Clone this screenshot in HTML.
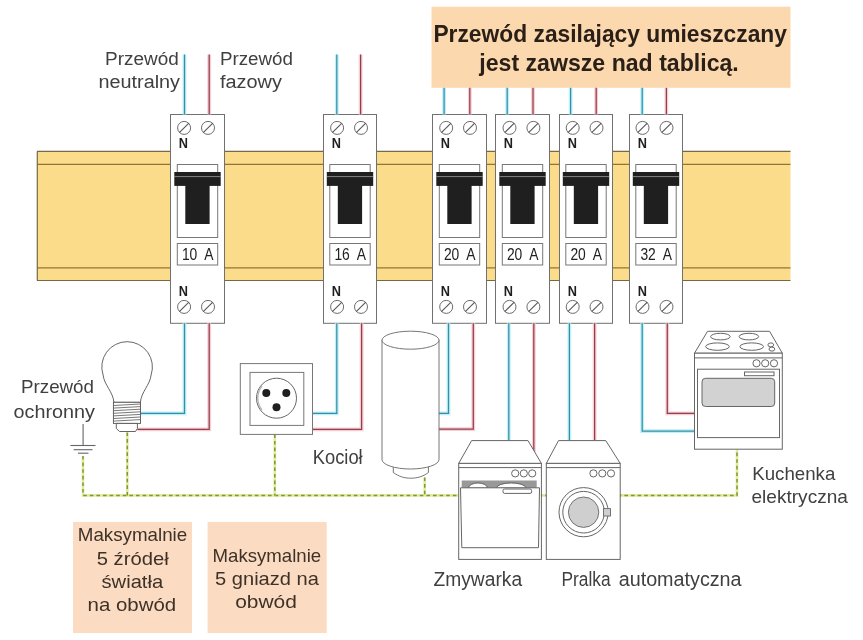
<!DOCTYPE html>
<html><head><meta charset="utf-8"><title>Instalacja</title>
<style>
html,body{margin:0;padding:0;background:#fff;width:863px;height:640px;overflow:hidden}
svg{display:block;font-family:"Liberation Sans", sans-serif;will-change:transform}
</style></head>
<body>
<svg width="863" height="640" viewBox="0 0 863 640">
<rect x="37" y="151.5" width="753.5" height="129" fill="#fbdc8b"/>
<g stroke-width="1.2" fill="none"><line x1="37" y1="151.4" x2="790.5" y2="151.4" stroke="#75694a"/><line x1="37" y1="164.3" x2="790.5" y2="164.3" stroke="#8f7638"/><line x1="37" y1="267.8" x2="790.5" y2="267.8" stroke="#8f7638"/><line x1="37" y1="280.5" x2="790.5" y2="280.5" stroke="#75694a"/><line x1="37.3" y1="151.4" x2="37.3" y2="280.5" stroke="#75694a"/></g>
<rect x="431.5" y="6.7" width="359" height="81.1" fill="#fcd8ae"/>
<rect x="170.5" y="114.5" width="54.0" height="208.8" fill="#fff" stroke="#707070" stroke-width="1"/>
<circle cx="184.1" cy="127.9" r="6.5" fill="#fff" stroke="#5a5a5a" stroke-width="0.9"/><line x1="179.3" y1="132.7" x2="188.9" y2="123.1" stroke="#555" stroke-width="1.1"/>
<circle cx="208.0" cy="127.9" r="6.5" fill="#fff" stroke="#5a5a5a" stroke-width="0.9"/><line x1="203.2" y1="132.7" x2="212.8" y2="123.1" stroke="#555" stroke-width="1.1"/>
<circle cx="184.1" cy="306.9" r="6.5" fill="#fff" stroke="#5a5a5a" stroke-width="0.9"/><line x1="179.3" y1="311.7" x2="188.9" y2="302.1" stroke="#555" stroke-width="1.1"/>
<circle cx="208.0" cy="306.9" r="6.5" fill="#fff" stroke="#5a5a5a" stroke-width="0.9"/><line x1="203.2" y1="311.7" x2="212.8" y2="302.1" stroke="#555" stroke-width="1.1"/>
<text x="178.7" y="148.4" font-size="14.5" font-weight="bold" fill="#1e1e1e" textLength="9.2" lengthAdjust="spacingAndGlyphs">N</text>
<text x="178.7" y="296" font-size="14.5" font-weight="bold" fill="#1e1e1e" textLength="9.2" lengthAdjust="spacingAndGlyphs">N</text>
<rect x="177.3" y="164.5" width="40.4" height="73" fill="#fff" stroke="#777" stroke-width="1"/>
<rect x="174.3" y="172" width="46.4" height="13.9" fill="#1f1f1f"/>
<line x1="174.3" y1="176.6" x2="220.7" y2="176.6" stroke="#a0a0a0" stroke-width="0.8"/>
<rect x="185.3" y="185" width="24.3" height="39" fill="#1f1f1f"/>
<rect x="177.3" y="243.5" width="40.4" height="21.5" fill="#fff" stroke="#777" stroke-width="1"/>
<text x="181.9" y="260.2" font-size="15.8" fill="#222" textLength="31.6" lengthAdjust="spacingAndGlyphs" xml:space="preserve">10  A</text>
<rect x="323.5" y="114.5" width="53.0" height="208.8" fill="#fff" stroke="#707070" stroke-width="1"/>
<circle cx="337.1" cy="127.9" r="6.5" fill="#fff" stroke="#5a5a5a" stroke-width="0.9"/><line x1="332.3" y1="132.7" x2="341.9" y2="123.1" stroke="#555" stroke-width="1.1"/>
<circle cx="361.0" cy="127.9" r="6.5" fill="#fff" stroke="#5a5a5a" stroke-width="0.9"/><line x1="356.2" y1="132.7" x2="365.8" y2="123.1" stroke="#555" stroke-width="1.1"/>
<circle cx="337.1" cy="306.9" r="6.5" fill="#fff" stroke="#5a5a5a" stroke-width="0.9"/><line x1="332.3" y1="311.7" x2="341.9" y2="302.1" stroke="#555" stroke-width="1.1"/>
<circle cx="361.0" cy="306.9" r="6.5" fill="#fff" stroke="#5a5a5a" stroke-width="0.9"/><line x1="356.2" y1="311.7" x2="365.8" y2="302.1" stroke="#555" stroke-width="1.1"/>
<text x="331.7" y="148.4" font-size="14.5" font-weight="bold" fill="#1e1e1e" textLength="9.2" lengthAdjust="spacingAndGlyphs">N</text>
<text x="331.7" y="296" font-size="14.5" font-weight="bold" fill="#1e1e1e" textLength="9.2" lengthAdjust="spacingAndGlyphs">N</text>
<rect x="329.8" y="164.5" width="40.4" height="73" fill="#fff" stroke="#777" stroke-width="1"/>
<rect x="326.8" y="172" width="46.4" height="13.9" fill="#1f1f1f"/>
<line x1="326.8" y1="176.6" x2="373.2" y2="176.6" stroke="#a0a0a0" stroke-width="0.8"/>
<rect x="337.8" y="185" width="24.3" height="39" fill="#1f1f1f"/>
<rect x="329.8" y="243.5" width="40.4" height="21.5" fill="#fff" stroke="#777" stroke-width="1"/>
<text x="334.4" y="260.2" font-size="15.8" fill="#222" textLength="31.6" lengthAdjust="spacingAndGlyphs" xml:space="preserve">16  A</text>
<rect x="432.5" y="114.5" width="54.0" height="208.8" fill="#fff" stroke="#707070" stroke-width="1"/>
<circle cx="446.2" cy="127.9" r="6.5" fill="#fff" stroke="#5a5a5a" stroke-width="0.9"/><line x1="441.4" y1="132.7" x2="451.0" y2="123.1" stroke="#555" stroke-width="1.1"/>
<circle cx="470.0" cy="127.9" r="6.5" fill="#fff" stroke="#5a5a5a" stroke-width="0.9"/><line x1="465.2" y1="132.7" x2="474.8" y2="123.1" stroke="#555" stroke-width="1.1"/>
<circle cx="446.2" cy="306.9" r="6.5" fill="#fff" stroke="#5a5a5a" stroke-width="0.9"/><line x1="441.4" y1="311.7" x2="451.0" y2="302.1" stroke="#555" stroke-width="1.1"/>
<circle cx="470.0" cy="306.9" r="6.5" fill="#fff" stroke="#5a5a5a" stroke-width="0.9"/><line x1="465.2" y1="311.7" x2="474.8" y2="302.1" stroke="#555" stroke-width="1.1"/>
<text x="440.7" y="148.4" font-size="14.5" font-weight="bold" fill="#1e1e1e" textLength="9.2" lengthAdjust="spacingAndGlyphs">N</text>
<text x="440.7" y="296" font-size="14.5" font-weight="bold" fill="#1e1e1e" textLength="9.2" lengthAdjust="spacingAndGlyphs">N</text>
<rect x="439.3" y="164.5" width="40.4" height="73" fill="#fff" stroke="#777" stroke-width="1"/>
<rect x="436.3" y="172" width="46.4" height="13.9" fill="#1f1f1f"/>
<line x1="436.3" y1="176.6" x2="482.7" y2="176.6" stroke="#a0a0a0" stroke-width="0.8"/>
<rect x="447.3" y="185" width="24.3" height="39" fill="#1f1f1f"/>
<rect x="439.3" y="243.5" width="40.4" height="21.5" fill="#fff" stroke="#777" stroke-width="1"/>
<text x="443.9" y="260.2" font-size="15.8" fill="#222" textLength="31.6" lengthAdjust="spacingAndGlyphs" xml:space="preserve">20  A</text>
<rect x="495.5" y="114.5" width="54.0" height="208.8" fill="#fff" stroke="#707070" stroke-width="1"/>
<circle cx="509.5" cy="127.9" r="6.5" fill="#fff" stroke="#5a5a5a" stroke-width="0.9"/><line x1="504.7" y1="132.7" x2="514.3" y2="123.1" stroke="#555" stroke-width="1.1"/>
<circle cx="533.4" cy="127.9" r="6.5" fill="#fff" stroke="#5a5a5a" stroke-width="0.9"/><line x1="528.6" y1="132.7" x2="538.2" y2="123.1" stroke="#555" stroke-width="1.1"/>
<circle cx="509.5" cy="306.9" r="6.5" fill="#fff" stroke="#5a5a5a" stroke-width="0.9"/><line x1="504.7" y1="311.7" x2="514.3" y2="302.1" stroke="#555" stroke-width="1.1"/>
<circle cx="533.4" cy="306.9" r="6.5" fill="#fff" stroke="#5a5a5a" stroke-width="0.9"/><line x1="528.6" y1="311.7" x2="538.2" y2="302.1" stroke="#555" stroke-width="1.1"/>
<text x="503.7" y="148.4" font-size="14.5" font-weight="bold" fill="#1e1e1e" textLength="9.2" lengthAdjust="spacingAndGlyphs">N</text>
<text x="503.7" y="296" font-size="14.5" font-weight="bold" fill="#1e1e1e" textLength="9.2" lengthAdjust="spacingAndGlyphs">N</text>
<rect x="502.3" y="164.5" width="40.4" height="73" fill="#fff" stroke="#777" stroke-width="1"/>
<rect x="499.3" y="172" width="46.4" height="13.9" fill="#1f1f1f"/>
<line x1="499.3" y1="176.6" x2="545.7" y2="176.6" stroke="#a0a0a0" stroke-width="0.8"/>
<rect x="510.3" y="185" width="24.3" height="39" fill="#1f1f1f"/>
<rect x="502.3" y="243.5" width="40.4" height="21.5" fill="#fff" stroke="#777" stroke-width="1"/>
<text x="506.9" y="260.2" font-size="15.8" fill="#222" textLength="31.6" lengthAdjust="spacingAndGlyphs" xml:space="preserve">20  A</text>
<rect x="559.5" y="114.5" width="53.0" height="208.8" fill="#fff" stroke="#707070" stroke-width="1"/>
<circle cx="572.7" cy="127.9" r="6.5" fill="#fff" stroke="#5a5a5a" stroke-width="0.9"/><line x1="567.9" y1="132.7" x2="577.5" y2="123.1" stroke="#555" stroke-width="1.1"/>
<circle cx="596.5" cy="127.9" r="6.5" fill="#fff" stroke="#5a5a5a" stroke-width="0.9"/><line x1="591.7" y1="132.7" x2="601.3" y2="123.1" stroke="#555" stroke-width="1.1"/>
<circle cx="572.7" cy="306.9" r="6.5" fill="#fff" stroke="#5a5a5a" stroke-width="0.9"/><line x1="567.9" y1="311.7" x2="577.5" y2="302.1" stroke="#555" stroke-width="1.1"/>
<circle cx="596.5" cy="306.9" r="6.5" fill="#fff" stroke="#5a5a5a" stroke-width="0.9"/><line x1="591.7" y1="311.7" x2="601.3" y2="302.1" stroke="#555" stroke-width="1.1"/>
<text x="567.7" y="148.4" font-size="14.5" font-weight="bold" fill="#1e1e1e" textLength="9.2" lengthAdjust="spacingAndGlyphs">N</text>
<text x="567.7" y="296" font-size="14.5" font-weight="bold" fill="#1e1e1e" textLength="9.2" lengthAdjust="spacingAndGlyphs">N</text>
<rect x="565.8" y="164.5" width="40.4" height="73" fill="#fff" stroke="#777" stroke-width="1"/>
<rect x="562.8" y="172" width="46.4" height="13.9" fill="#1f1f1f"/>
<line x1="562.8" y1="176.6" x2="609.2" y2="176.6" stroke="#a0a0a0" stroke-width="0.8"/>
<rect x="573.8" y="185" width="24.3" height="39" fill="#1f1f1f"/>
<rect x="565.8" y="243.5" width="40.4" height="21.5" fill="#fff" stroke="#777" stroke-width="1"/>
<text x="570.4" y="260.2" font-size="15.8" fill="#222" textLength="31.6" lengthAdjust="spacingAndGlyphs" xml:space="preserve">20  A</text>
<rect x="629.5" y="114.5" width="53.0" height="208.8" fill="#fff" stroke="#707070" stroke-width="1"/>
<circle cx="642.5" cy="127.9" r="6.5" fill="#fff" stroke="#5a5a5a" stroke-width="0.9"/><line x1="637.7" y1="132.7" x2="647.3" y2="123.1" stroke="#555" stroke-width="1.1"/>
<circle cx="666.5" cy="127.9" r="6.5" fill="#fff" stroke="#5a5a5a" stroke-width="0.9"/><line x1="661.7" y1="132.7" x2="671.3" y2="123.1" stroke="#555" stroke-width="1.1"/>
<circle cx="642.5" cy="306.9" r="6.5" fill="#fff" stroke="#5a5a5a" stroke-width="0.9"/><line x1="637.7" y1="311.7" x2="647.3" y2="302.1" stroke="#555" stroke-width="1.1"/>
<circle cx="666.5" cy="306.9" r="6.5" fill="#fff" stroke="#5a5a5a" stroke-width="0.9"/><line x1="661.7" y1="311.7" x2="671.3" y2="302.1" stroke="#555" stroke-width="1.1"/>
<text x="637.7" y="148.4" font-size="14.5" font-weight="bold" fill="#1e1e1e" textLength="9.2" lengthAdjust="spacingAndGlyphs">N</text>
<text x="637.7" y="296" font-size="14.5" font-weight="bold" fill="#1e1e1e" textLength="9.2" lengthAdjust="spacingAndGlyphs">N</text>
<rect x="635.8" y="164.5" width="40.4" height="73" fill="#fff" stroke="#777" stroke-width="1"/>
<rect x="632.8" y="172" width="46.4" height="13.9" fill="#1f1f1f"/>
<line x1="632.8" y1="176.6" x2="679.2" y2="176.6" stroke="#a0a0a0" stroke-width="0.8"/>
<rect x="643.8" y="185" width="24.3" height="39" fill="#1f1f1f"/>
<rect x="635.8" y="243.5" width="40.4" height="21.5" fill="#fff" stroke="#777" stroke-width="1"/>
<text x="640.4" y="260.2" font-size="15.8" fill="#222" textLength="31.6" lengthAdjust="spacingAndGlyphs" xml:space="preserve">32  A</text>
<polyline points="184.5,54.5 184.5,114.5" fill="none" stroke="#bcf0fb" stroke-width="3.8"/><polyline points="184.5,54.5 184.5,114.5" fill="none" stroke="#3a8ea3" stroke-width="1.25"/>
<polyline points="209.2,54.5 209.2,114.5" fill="none" stroke="#f7ccd2" stroke-width="3.8"/><polyline points="209.2,54.5 209.2,114.5" fill="none" stroke="#93404c" stroke-width="1.25"/>
<polyline points="336.8,54.5 336.8,114.5" fill="none" stroke="#bcf0fb" stroke-width="3.8"/><polyline points="336.8,54.5 336.8,114.5" fill="none" stroke="#3a8ea3" stroke-width="1.25"/>
<polyline points="360.6,54.5 360.6,114.5" fill="none" stroke="#f7ccd2" stroke-width="3.8"/><polyline points="360.6,54.5 360.6,114.5" fill="none" stroke="#93404c" stroke-width="1.25"/>
<polyline points="444.1,87.8 444.1,114.5" fill="none" stroke="#bcf0fb" stroke-width="3.8"/><polyline points="444.1,87.8 444.1,114.5" fill="none" stroke="#3a8ea3" stroke-width="1.25"/>
<polyline points="469.8,87.8 469.8,114.5" fill="none" stroke="#f7ccd2" stroke-width="3.8"/><polyline points="469.8,87.8 469.8,114.5" fill="none" stroke="#93404c" stroke-width="1.25"/>
<polyline points="507.2,87.8 507.2,114.5" fill="none" stroke="#bcf0fb" stroke-width="3.8"/><polyline points="507.2,87.8 507.2,114.5" fill="none" stroke="#3a8ea3" stroke-width="1.25"/>
<polyline points="533.0,87.8 533.0,114.5" fill="none" stroke="#f7ccd2" stroke-width="3.8"/><polyline points="533.0,87.8 533.0,114.5" fill="none" stroke="#93404c" stroke-width="1.25"/>
<polyline points="570.6,87.8 570.6,114.5" fill="none" stroke="#bcf0fb" stroke-width="3.8"/><polyline points="570.6,87.8 570.6,114.5" fill="none" stroke="#3a8ea3" stroke-width="1.25"/>
<polyline points="596.2,87.8 596.2,114.5" fill="none" stroke="#f7ccd2" stroke-width="3.8"/><polyline points="596.2,87.8 596.2,114.5" fill="none" stroke="#93404c" stroke-width="1.25"/>
<polyline points="642.2,87.8 642.2,114.5" fill="none" stroke="#bcf0fb" stroke-width="3.8"/><polyline points="642.2,87.8 642.2,114.5" fill="none" stroke="#3a8ea3" stroke-width="1.25"/>
<polyline points="666.4,87.8 666.4,114.5" fill="none" stroke="#f7ccd2" stroke-width="3.8"/><polyline points="666.4,87.8 666.4,114.5" fill="none" stroke="#93404c" stroke-width="1.25"/>
<polyline points="184.5,323.3 184.5,413.3 140.5,413.3" fill="none" stroke="#bcf0fb" stroke-width="3.8"/><polyline points="184.5,323.3 184.5,413.3 140.5,413.3" fill="none" stroke="#3a8ea3" stroke-width="1.25"/>
<polyline points="209.2,323.3 209.2,429.3 137.4,429.3" fill="none" stroke="#f7ccd2" stroke-width="3.8"/><polyline points="209.2,323.3 209.2,429.3 137.4,429.3" fill="none" stroke="#93404c" stroke-width="1.25"/>
<polyline points="336.8,323.3 336.8,413.3 312.5,413.3" fill="none" stroke="#bcf0fb" stroke-width="3.8"/><polyline points="336.8,323.3 336.8,413.3 312.5,413.3" fill="none" stroke="#3a8ea3" stroke-width="1.25"/>
<polyline points="361.6,323.3 361.6,429.3 312.5,429.3" fill="none" stroke="#f7ccd2" stroke-width="3.8"/><polyline points="361.6,323.3 361.6,429.3 312.5,429.3" fill="none" stroke="#93404c" stroke-width="1.25"/>
<polyline points="448.5,323.3 448.5,413.3 439,413.3" fill="none" stroke="#bcf0fb" stroke-width="3.8"/><polyline points="448.5,323.3 448.5,413.3 439,413.3" fill="none" stroke="#3a8ea3" stroke-width="1.25"/>
<polyline points="473.3,323.3 473.3,429.1 439,429.1" fill="none" stroke="#f7ccd2" stroke-width="3.8"/><polyline points="473.3,323.3 473.3,429.1 439,429.1" fill="none" stroke="#93404c" stroke-width="1.25"/>
<polyline points="508.8,323.3 508.8,440.6" fill="none" stroke="#bcf0fb" stroke-width="3.8"/><polyline points="508.8,323.3 508.8,440.6" fill="none" stroke="#3a8ea3" stroke-width="1.25"/>
<polyline points="533.8,323.3 533.8,452" fill="none" stroke="#f7ccd2" stroke-width="3.8"/><polyline points="533.8,323.3 533.8,452" fill="none" stroke="#93404c" stroke-width="1.25"/>
<polyline points="569.4,323.3 569.4,440.6" fill="none" stroke="#bcf0fb" stroke-width="3.8"/><polyline points="569.4,323.3 569.4,440.6" fill="none" stroke="#3a8ea3" stroke-width="1.25"/>
<polyline points="594.6,323.3 594.6,440.6" fill="none" stroke="#f7ccd2" stroke-width="3.8"/><polyline points="594.6,323.3 594.6,440.6" fill="none" stroke="#93404c" stroke-width="1.25"/>
<polyline points="642.2,323.3 642.2,431.2 694.2,431.2" fill="none" stroke="#bcf0fb" stroke-width="3.8"/><polyline points="642.2,323.3 642.2,431.2 694.2,431.2" fill="none" stroke="#3a8ea3" stroke-width="1.25"/>
<polyline points="667.3,323.3 667.3,413.3 694.2,413.3" fill="none" stroke="#f7ccd2" stroke-width="3.8"/><polyline points="667.3,323.3 667.3,413.3 694.2,413.3" fill="none" stroke="#93404c" stroke-width="1.25"/>
<polyline points="83,456 83,495.4 737,495.4 737,449.4" fill="none" stroke="#dcef98" stroke-width="2.6"/><polyline points="83,456 83,495.4 737,495.4 737,449.4" fill="none" stroke="#84923c" stroke-width="1.5" stroke-dasharray="3.6 3"/>
<polyline points="127.3,432.5 127.3,495.4" fill="none" stroke="#dcef98" stroke-width="2.6"/><polyline points="127.3,432.5 127.3,495.4" fill="none" stroke="#84923c" stroke-width="1.5" stroke-dasharray="3.6 3"/>
<polyline points="274.8,434.4 274.8,495.4" fill="none" stroke="#dcef98" stroke-width="2.6"/><polyline points="274.8,434.4 274.8,495.4" fill="none" stroke="#84923c" stroke-width="1.5" stroke-dasharray="3.6 3"/>
<polyline points="424.7,477.5 424.7,495.4" fill="none" stroke="#dcef98" stroke-width="2.6"/><polyline points="424.7,477.5 424.7,495.4" fill="none" stroke="#84923c" stroke-width="1.5" stroke-dasharray="3.6 3"/>
<g stroke="#666" stroke-width="1.1"><line x1="83.1" y1="424" x2="83.1" y2="445.5"/><line x1="70.4" y1="445.5" x2="95.5" y2="445.5"/><line x1="73.7" y1="449.7" x2="92.5" y2="449.7"/><line x1="78" y1="453.2" x2="88.5" y2="453.2"/></g>
<g fill="#fff" stroke="#555" stroke-width="0.9"><path d="M113.9,402.3 C113.2,392 104.2,385 103.1,375 A25.3,25.3 0 1 1 151.1,375 C150,385 141.2,392 140.4,402.3 Z"/><rect x="113.4" y="402.3" width="27.1" height="21.1"/><path d="M116.3,423.4 L116.3,428.5 L119.5,431.5 L135.5,431.5 L137.4,428.5 L137.4,423.4 Z"/></g>
<g stroke="#555" stroke-width="0.8"><line x1="113.4" y1="405.5" x2="140.5" y2="404.0"/><line x1="113.4" y1="408.1" x2="140.5" y2="406.6"/><line x1="113.4" y1="410.7" x2="140.5" y2="409.2"/><line x1="113.4" y1="413.3" x2="140.5" y2="411.8"/><line x1="113.4" y1="415.9" x2="140.5" y2="414.4"/><line x1="113.4" y1="418.5" x2="140.5" y2="417.0"/><line x1="113.4" y1="421.1" x2="140.5" y2="419.6"/></g>
<rect x="240.3" y="363.6" width="72.2" height="70.8" fill="#fff" stroke="#777" stroke-width="1"/>
<rect x="250" y="372.4" width="53.8" height="53" fill="#fff" stroke="#777" stroke-width="1"/>
<circle cx="276.5" cy="398.2" r="20" fill="#fff" stroke="#666" stroke-width="1"/>
<path d="M262,386 A19,19 0 0 0 262,410" fill="none" stroke="#bbb" stroke-width="1.5"/>
<g fill="#1f1f1f"><circle cx="266.3" cy="392.9" r="4"/><circle cx="286.3" cy="392.9" r="4"/><circle cx="276.5" cy="407.3" r="4"/></g>
<g fill="#fff" stroke="#666" stroke-width="0.9"><path d="M393.3,462 L393.3,472.5 C399,476.5 404,478.2 410.8,478.2 C417.5,478.2 423,476.5 428.4,472.5 L428.4,462 Z"/><path d="M382,340 L382,459.5 A28.5,9.5 0 0 0 439,459.5 L439,340 Z"/><ellipse cx="410.5" cy="340.2" rx="28.5" ry="9"/></g>
<g fill="#fff" stroke="#666" stroke-width="1"><path d="M471.6,440.6 L528,440.6 L541.4,463.4 L458.7,463.4 Z"/><rect x="458.7" y="463.4" width="82.7" height="96"/><line x1="458.7" y1="467.6" x2="541.4" y2="467.6"/><circle cx="515.2" cy="473.4" r="3.6"/><circle cx="523.8" cy="473.4" r="3.6"/><circle cx="532.2" cy="473.4" r="3.6"/></g>
<rect x="461.7" y="480.5" width="75" height="7.5" fill="#999"/>
<path d="M468.5,488 A9.5,5 0 0 1 487.5,488 Z M496.5,488 A14.7,5 0 0 1 526,488 Z" fill="#fff" stroke="#555" stroke-width="0.9"/>
<g fill="#fff" stroke="#666" stroke-width="1"><path d="M460.5,487.8 L539.5,487.8 L538.5,547.7 L461.8,547.7 Z"/><rect x="503" y="489" width="28.6" height="4.4" rx="1.5"/></g>
<g fill="#fff" stroke="#666" stroke-width="1"><path d="M558.5,440.6 L605.8,440.6 L620.2,463.4 L546.3,463.4 Z"/><rect x="546.3" y="463.4" width="73.9" height="96"/><line x1="546.3" y1="467.6" x2="620.2" y2="467.6"/><circle cx="593.4" cy="473.4" r="3.6"/><circle cx="602.3" cy="473.4" r="3.6"/><circle cx="611" cy="473.4" r="3.6"/><circle cx="583.6" cy="512.2" r="24.6"/><circle cx="583.6" cy="512.2" r="20.8"/></g>
<circle cx="583.6" cy="512.2" r="15.2" fill="#cfcfcf" stroke="#666" stroke-width="0.9"/>
<rect x="603.5" y="508.6" width="7" height="7.4" fill="#cfcfcf" stroke="#666" stroke-width="0.9"/>
<g fill="#fff" stroke="#666" stroke-width="1"><path d="M707.5,331.3 L769.6,331.3 L782.3,353.2 L694.5,353.2 Z"/><rect x="694.5" y="353.2" width="87.8" height="96"/><line x1="694.5" y1="357.9" x2="782.3" y2="357.9"/><ellipse cx="720.4" cy="336.6" rx="9.8" ry="3.3"/><ellipse cx="748.9" cy="336.6" rx="9.8" ry="3.3"/><ellipse cx="717.5" cy="346.6" rx="11.8" ry="3.7"/><ellipse cx="751.7" cy="346.6" rx="11.8" ry="3.7"/><ellipse cx="770.8" cy="344.9" rx="2.9" ry="2"/><ellipse cx="771.9" cy="349.1" rx="2.9" ry="2"/><circle cx="756.5" cy="363.3" r="3.6"/><circle cx="765.2" cy="363.3" r="3.6"/><circle cx="774" cy="363.3" r="3.6"/><rect x="697.5" y="369.2" width="82" height="68.4"/><rect x="744.5" y="372" width="29.5" height="3.7"/></g>
<rect x="702" y="378.3" width="72.7" height="28.2" rx="3.5" fill="#d2d2d2" stroke="#666" stroke-width="1"/>
<text x="105.1" y="65" font-size="18" font-weight="normal" fill="#404040" text-anchor="start" textLength="73.7" lengthAdjust="spacingAndGlyphs">Przewód</text>
<text x="98.5" y="88.2" font-size="18" font-weight="normal" fill="#404040" text-anchor="start" textLength="81.5" lengthAdjust="spacingAndGlyphs">neutralny</text>
<text x="219.9" y="65" font-size="18" font-weight="normal" fill="#404040" text-anchor="start" textLength="73" lengthAdjust="spacingAndGlyphs">Przewód</text>
<text x="219.9" y="87.9" font-size="18" font-weight="normal" fill="#404040" text-anchor="start" textLength="62" lengthAdjust="spacingAndGlyphs">fazowy</text>
<text x="21" y="393.2" font-size="18.5" font-weight="normal" fill="#404040" text-anchor="start" textLength="73" lengthAdjust="spacingAndGlyphs">Przewód</text>
<text x="13.6" y="417.8" font-size="18.5" font-weight="normal" fill="#404040" text-anchor="start" textLength="81.4" lengthAdjust="spacingAndGlyphs">ochronny</text>
<text x="312.7" y="464.3" font-size="19.5" font-weight="normal" fill="#404040" text-anchor="start" textLength="50" lengthAdjust="spacingAndGlyphs">Kocioł</text>
<text x="433.5" y="586" font-size="19.5" font-weight="normal" fill="#404040" text-anchor="start" textLength="88.6" lengthAdjust="spacingAndGlyphs">Zmywarka</text>
<text x="561.5" y="586" font-size="19.5" font-weight="normal" fill="#404040" text-anchor="start" textLength="49.1" lengthAdjust="spacingAndGlyphs">Pralka</text>
<text x="618.7" y="586" font-size="19.5" font-weight="normal" fill="#404040" text-anchor="start" textLength="122.9" lengthAdjust="spacingAndGlyphs">automatyczna</text>
<text x="752.3" y="480" font-size="19" font-weight="normal" fill="#404040" text-anchor="start" textLength="83" lengthAdjust="spacingAndGlyphs">Kuchenka</text>
<text x="751.5" y="503.2" font-size="19" font-weight="normal" fill="#404040" text-anchor="start" textLength="96.4" lengthAdjust="spacingAndGlyphs">elektryczna</text>
<text x="433.4" y="42.2" font-size="24" font-weight="bold" fill="#2a2018" text-anchor="start" textLength="353.6" lengthAdjust="spacingAndGlyphs">Przewód zasilający umieszczany</text>
<text x="479.3" y="70.8" font-size="24" font-weight="bold" fill="#2a2018" text-anchor="start" textLength="259.5" lengthAdjust="spacingAndGlyphs">jest zawsze nad tablicą.</text>
<rect x="73" y="522" width="119" height="111" fill="#fbdcc2"/>
<rect x="207.6" y="522" width="119.1" height="111" fill="#fbdcc2"/>
<text x="77.8" y="541.2" font-size="18.5" font-weight="normal" fill="#3d3128" text-anchor="start" textLength="109.4" lengthAdjust="spacingAndGlyphs">Maksymalnie</text>
<text x="96.7" y="565" font-size="18.5" font-weight="normal" fill="#3d3128" text-anchor="start" textLength="72" lengthAdjust="spacingAndGlyphs">5 źródeł</text>
<text x="101.5" y="588.3" font-size="18.5" font-weight="normal" fill="#3d3128" text-anchor="start" textLength="61.7" lengthAdjust="spacingAndGlyphs">światła</text>
<text x="87.6" y="611" font-size="18.5" font-weight="normal" fill="#3d3128" text-anchor="start" textLength="88.6" lengthAdjust="spacingAndGlyphs">na obwód</text>
<text x="212.5" y="561.6" font-size="18.5" font-weight="normal" fill="#3d3128" text-anchor="start" textLength="108.7" lengthAdjust="spacingAndGlyphs">Maksymalnie</text>
<text x="215.1" y="585" font-size="18.5" font-weight="normal" fill="#3d3128" text-anchor="start" textLength="103.8" lengthAdjust="spacingAndGlyphs">5 gniazd na</text>
<text x="235.2" y="608" font-size="18.5" font-weight="normal" fill="#3d3128" text-anchor="start" textLength="61.7" lengthAdjust="spacingAndGlyphs">obwód</text>
</svg>
</body></html>
